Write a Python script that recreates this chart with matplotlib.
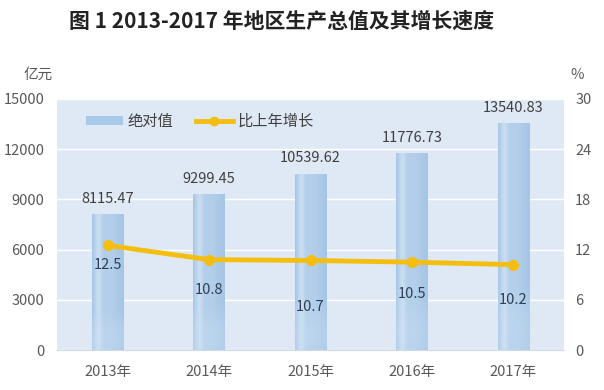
import numpy as np
import matplotlib
matplotlib.use("Agg")
import matplotlib.pyplot as plt
from matplotlib.patches import Patch
from matplotlib.lines import Line2D

plt.rcParams['font.family'] = ['Noto Sans CJK SC', 'DejaVu Sans']

years = ["2013年", "2014年", "2015年", "2016年", "2017年"]
gdp = [8115.47, 9299.45, 10539.62, 11776.73, 13540.83]
growth = [12.5, 10.8, 10.7, 10.5, 10.2]
left_ticks = [0, 3000, 6000, 9000, 12000, 15000]
right_ticks = [0, 6, 12, 18, 24, 30]

# label offsets (pixels below point) for growth labels
growth_label_offsets = [20, 30, 47, 32, 35]

fig = plt.figure(figsize=(6.04, 3.90), dpi=100)
ax = fig.add_axes([57/604, 40/390, (564-57)/604, (350-99)/390])
ax2 = ax.twinx()

bg = "#dfe9f5"
ax.set_facecolor(bg)
ax2.patch.set_visible(False)

x = np.arange(len(years))
bars = ax.bar(x, gdp, width=0.31, color="#a3c5e8", zorder=2)

# gradient fill for bars
w_px, h_px = 40, 100
u = np.linspace(0, 1, w_px)
prof = 0.55 + 0.3*np.exp(-((u-0.2)/0.1)**2) - 0.18*np.clip((u-0.6)/0.4, 0, 1) - 0.15*np.clip((0.08-u)/0.08, 0, 1)
dark = np.array([0x8a, 0xb3, 0xdd])/255
light = np.array([0xd4, 0xe5, 0xf5])/255
img = np.zeros((h_px, w_px, 3))
for i in range(h_px):
    v = i / (h_px-1)  # 0 top -> 1 bottom
    fade = 0.0
    if v > 0.72:
        fade = 0.35*np.sin(np.pi*(v-0.72)/0.28*0.7)
    t = np.clip(prof + fade*(1-prof)*0.8, 0, 1)
    img[i] = dark[None, :]*(1-t[:, None]) + light[None, :]*t[:, None]
for b in bars:
    xb, wb, hb = b.get_x(), b.get_width(), b.get_height()
    im = ax.imshow(img, extent=[xb, xb+wb, 0, hb], aspect='auto', zorder=2.1,
                   interpolation='bilinear')
    im.set_clip_path(b)

ax.set_xlim(-0.5, len(years)-0.5)
ax.set_ylim(0, 15000)
ax.set_yticks(left_ticks)
ax2.set_ylim(0, 30)
ax2.set_yticks(right_ticks)
ax.grid(axis='y', color='white', linewidth=1.0, zorder=1)
ax.set_axisbelow(True)
for a in (ax, ax2):
    for s in a.spines.values():
        s.set_visible(False)
ax.spines['bottom'].set_visible(True)
ax.spines['bottom'].set_color('#d0d8e2')
ax.tick_params(axis='both', length=0, labelsize=10.5, colors='#595959')
ax2.tick_params(axis='y', length=0, labelsize=10.5, colors='#595959')
ax.tick_params(axis='y', pad=9)
ax2.tick_params(axis='y', pad=8)
ax.set_xticks(x)
ax.set_xticklabels(years, fontsize=10.5)
ax.tick_params(axis='x', pad=11)

for xi, v in zip(x, gdp):
    ax.annotate(f"{v:.2f}", (xi, v), xytext=(0, 6), textcoords='offset points',
                ha='center', va='bottom', fontsize=10.5, color='#404040')

line_col = "#f4be10"
ax2.plot(x, growth, color=line_col, linewidth=3.5, marker='o', markersize=7,
         zorder=5, solid_capstyle='round')
for xi, v, off in zip(x, growth, growth_label_offsets):
    ax2.annotate(f"{v}", (xi, v), xytext=(0, -off*0.72), textcoords='offset points',
                 ha='center', va='center', fontsize=10.5, color='#2f3f55')

handles = [Patch(facecolor="#a9c9e9", edgecolor='none'),
           Line2D([0], [0], color=line_col, linewidth=3.5, marker='o', markersize=6)]
leg = ax2.legend(handles, ["绝对值", "比上年增长"], loc='upper left',
                 bbox_to_anchor=(0.03, 1.0), ncol=2, frameon=False,
                 fontsize=11, handlelength=2.4, handleheight=0.5,
                 columnspacing=1.5, handletextpad=0.3, labelcolor='#404040')

fig.text(282/604, 1-21/390, "图 1 2013-2017 年地区生产总值及其增长速度",
         ha='center', va='center', fontsize=15, fontweight='bold', color='#222222')
fig.text(38/604, 1-75/390, "亿元", ha='center', va='center', fontsize=10.5, color='#595959')
fig.text(577/604, 1-75/390, "%", ha='center', va='center', fontsize=10.5, color='#595959')

fig.savefig("out.png", dpi=100)
